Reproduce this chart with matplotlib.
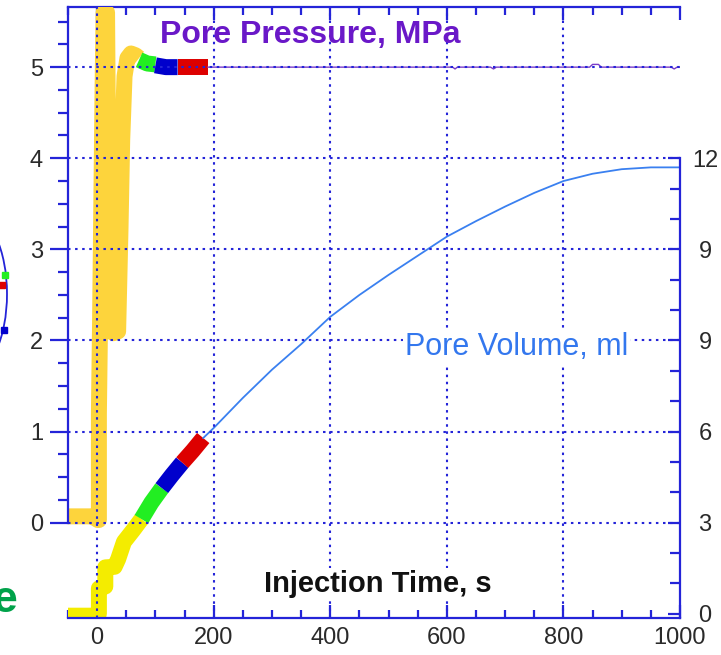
import matplotlib.pyplot as plt
import numpy as np
from matplotlib.patches import Ellipse
from matplotlib.lines import Line2D

plt.rcParams['font.family'] = ['Liberation Sans', 'DejaVu Sans']

# pore pressure, MPa (left axis)
t_p_run = [-50, -8, 1, 3, 3, 5, 7, 9, 11, 17, 19, 22, 28, 36, 40, 43, 47, 52, 58, 66, 72]
p_run = [0.07, 0.07, 0.03, 0.03, 1.2, 2.2, 3.4, 4.6, 5.6, 5.6, 3.9, 2.6, 2.08, 2.1, 3.2, 4.2, 4.9, 5.1, 5.15, 5.13, 5.1]
t_p_green = [72, 86, 100]
p_green = [5.08, 5.04, 5.03]
t_p_blue = [100, 118, 138]
p_blue = [5.02, 5.0, 5.0]
t_p_red = [138, 190]
p_red = [5.0, 5.0]
t_p_hold = [190, 400, 610, 614, 618, 675, 680, 685, 845, 850, 860, 865, 985, 990, 995, 1000]
p_hold = [5.0, 5.0, 5.0, 4.98, 5.0, 5.0, 4.98, 5.0, 5.0, 5.03, 5.03, 5.0, 5.0, 4.98, 5.0, 5.0]

# pore volume, ml (right axis)
t_v_run = [-50, -2, 3, 3, 14, 14, 30, 36, 46, 62, 76]
v_run = [-0.06, -0.06, 0, 0.84, 0.9, 1.53, 1.55, 1.8, 2.37, 2.76, 3.12]
t_v_green = [76, 93, 111]
v_green = [3.12, 3.66, 4.14]
t_v_blue = [111, 128, 146]
v_blue = [4.14, 4.56, 4.98]
t_v_red = [146, 164, 182]
v_red = [4.98, 5.37, 5.79]
t_v_hold = [182, 200, 250, 300, 350, 400, 450, 500, 550, 600, 650, 700, 750,
            800, 850, 900, 950, 1000]
v_hold = [5.79, 6.12, 7.11, 8.04, 8.88, 9.78, 10.5, 11.16, 11.79, 12.42, 12.93,
          13.41, 13.86, 14.25, 14.49, 14.64, 14.7, 14.7]

x_major = [0, 200, 400, 600, 800, 1000]
p_major = [0, 1, 2, 3, 4, 5]
v_major = [0, 3, 6, 9, 12, 15]
v_labels = ['0', '3', '6', '9', '9', '12']

blue = '#2424d8'
tick_col = '#2a2a2a'

fig = plt.figure(figsize=(7.21, 6.55), dpi=100)
axv = fig.add_axes([68 / 721, 37.5 / 655, 612 / 721, 610.5 / 655])
axp = axv.twinx()
axv.yaxis.tick_right()
axp.yaxis.tick_left()

axv.set_xlim(-50, 1000)
axp.set_ylim(-1.04, 5.66)
axv.set_ylim(-0.12, 19.98)

# volume traces
thick = dict(lw=11.5, solid_capstyle='butt', solid_joinstyle='round')
axv.plot(t_v_run, v_run, color='#f4ec00', **thick)
axv.plot(t_v_green, v_green, color='#22ee22', **thick)
axv.plot(t_v_blue, v_blue, color='#0000cc', **thick)
axv.plot(t_v_red, v_red, color='#dd0000', **thick)
axv.plot(t_v_hold, v_hold, color='#3a80f0', lw=1.3)

# pressure traces
axp.plot(t_p_run, p_run, color='#fdd43c', **thick)
axp.plot(t_p_green, p_green, color='#22ee22', **thick)
axp.plot(t_p_blue, p_blue, color='#0000cc', **thick)
axp.plot(t_p_red, p_red, color='#dd0000', **thick)
axp.plot(t_p_hold, p_hold, color='#7a3cc8', lw=1)

# dotted grid on top of the traces
for x in x_major[:-1]:
    axp.axvline(x, color=blue, lw=1.5, ls=(0, (1.2, 2.2)), zorder=3)
for y in p_major:
    axp.axhline(y, color=blue, lw=1.5, ls=(0, (1.2, 2.2)), zorder=3)

# spines
for s in axp.spines.values():
    s.set_visible(False)
axp.spines['left'].set_visible(True)
axp.spines['left'].set_bounds(0, 5.66)
axp.spines['left'].set_color(blue)
axp.spines['left'].set_linewidth(1.6)
axv.spines['left'].set_visible(False)
for k in ['top', 'bottom', 'right']:
    axv.spines[k].set_color(blue)
    axv.spines[k].set_linewidth(1.6)
axv.spines['right'].set_bounds(-0.12, 15)

# x ticks
axv.set_xticks(x_major)
axv.set_xticks(np.arange(-50, 1001, 50), minor=True)
axv.tick_params(axis='x', which='both', direction='in', top=True, bottom=True,
                color=blue, width=1.6, labelsize=17, labelcolor=tick_col, pad=7)
axv.tick_params(axis='x', which='major', length=9.4)
axv.tick_params(axis='x', which='minor', length=5.8)

# left (pressure) ticks
axp.set_yticks(p_major)
axp.set_yticks(np.arange(0.25, 5.6, 0.25), minor=True)
axp.tick_params(axis='y', which='both', direction='out', color=blue, width=1.6,
                labelsize=17, labelcolor=tick_col, pad=5)
axp.tick_params(axis='y', which='major', length=13)
axp.tick_params(axis='y', which='minor', length=7)

# right (volume) ticks
axv.set_yticks(v_major)
axv.set_yticklabels(v_labels)
axv.set_yticks(np.arange(0, 15, 1), minor=True)
axv.tick_params(axis='y', which='both', direction='in', color=blue, width=1.6,
                labelsize=17, labelcolor=tick_col, pad=18)
axv.tick_params(axis='y', which='major', length=9)
axv.tick_params(axis='y', which='minor', length=7)
for lab in axv.get_yticklabels():
    lab.set_ha('center')

# labels inside the plot
axp.text(108, 5.35, 'Pore Pressure, MPa', color='#6a18c8', fontsize=23,
         fontweight='bold', ha='left', va='center', zorder=4)
axp.text(528, 1.93, 'Pore Volume, ml', color='#3377ee', fontsize=22,
         ha='left', va='center', zorder=4,
         bbox=dict(fc='white', ec='none', pad=1))
axp.text(286, -0.67, 'Injection Time, s', color='#111111', fontsize=21,
         fontweight='bold', ha='left', va='center', zorder=4,
         bbox=dict(fc='white', ec='none', pad=1))

# bits of the neighbouring panel at the left edge
fig.text(-8 / 721, 43 / 655, 'e', color='#00a24a', fontsize=32,
         fontweight='bold', va='baseline', ha='left')
fig.add_artist(Ellipse((-30 / 721, 361 / 655), 74 / 721, 160 / 655,
                       transform=fig.transFigure, fill=False, ec=blue, lw=1.3))
for px, py, c in [(5, 275, '#22ee22'), (2, 285, '#dd0000'), (4, 330, '#0000cc')]:
    fig.add_artist(Line2D([px / 721], [(655 - py) / 655], marker='s', ms=4,
                          color=c, transform=fig.transFigure))

fig.savefig('out.png', dpi=100)
